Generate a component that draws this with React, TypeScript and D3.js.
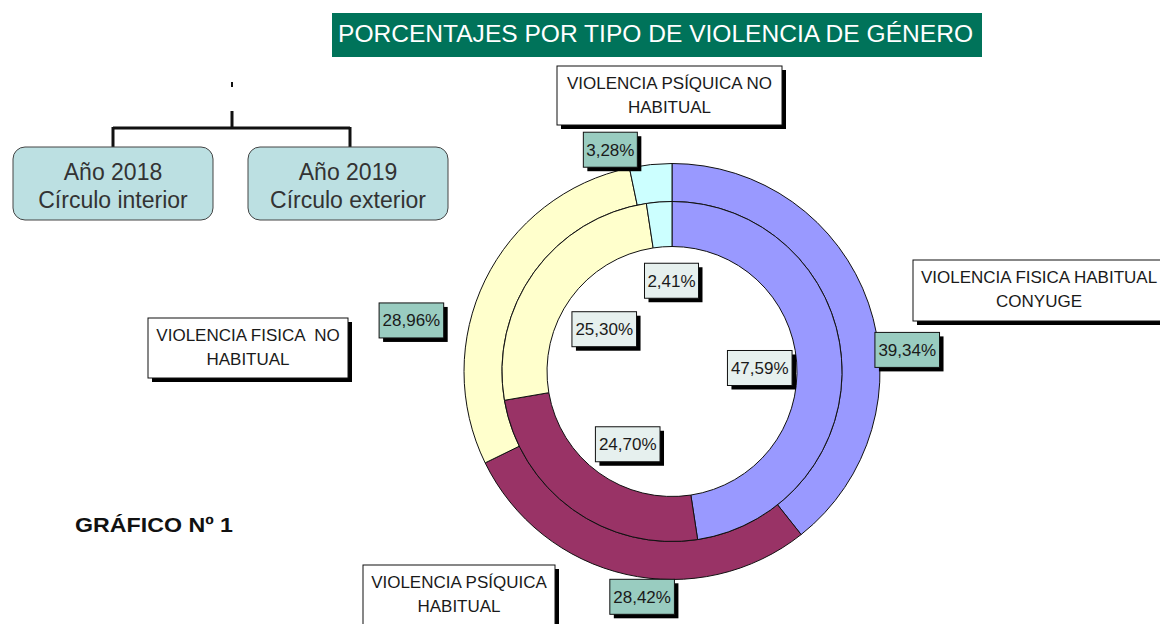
import React from "react";
import * as d3 from "d3";

// ---------- data ----------
const categories = [
  "VIOLENCIA FISICA HABITUAL CONYUGE",
  "VIOLENCIA PSÍQUICA HABITUAL",
  "VIOLENCIA FISICA NO HABITUAL",
  "VIOLENCIA PSÍQUICA NO HABITUAL",
];
const categoryLines = [
  ["VIOLENCIA FISICA HABITUAL", "CONYUGE"],
  ["VIOLENCIA PSÍQUICA", "HABITUAL"],
  ["VIOLENCIA FISICA  NO", "HABITUAL"],
  ["VIOLENCIA PSÍQUICA NO", "HABITUAL"],
];
const values2018 = [47.59, 24.7, 25.3, 2.41]; // inner ring
const values2019 = [39.34, 28.42, 28.96, 3.28]; // outer ring
const sliceColors = ["#9999FF", "#993366", "#FFFFCC", "#CCFFFF"];

const titleText = "PORCENTAJES POR TIPO DE VIOLENCIA DE GÉNERO";
const yearLabels = [
  ["Año 2018", "Círculo interior"],
  ["Año 2019", "Círculo exterior"],
];
const footText = "GRÁFICO Nº 1";

// ---------- layout ----------
const W = 1160;
const H = 624;
const cx = 672;
const cy = 371.5;
const rHole = 125;
const rMid = 170;
const rOuter = 208;
const innerLabelR = 86;
const outerLabelR = 230;
// manual nudges of outer data labels (like moved Excel labels)
const outerLabelNudge: [number, number][] = [
  [18, 54],
  [21, 1],
  [-54, 50],
  [-38, 7],
];
const innerLabelNudge: [number, number][] = [
  [2, 3],
  [6, 3],
  [2, 8],
  [6, -5],
];
// category label boxes: x, y, w, h
const catBoxes: [number, number, number, number][] = [
  [913, 260, 252, 61],
  [363, 565, 192, 72],
  [148, 318, 200, 60],
  [557, 66, 225, 59],
];

const fmt = (v: number) => v.toFixed(2).replace(".", ",") + "%";

const FONT = "'Liberation Sans', Arial, sans-serif";

function PctLabel({ x, y, text, fill }: { x: number; y: number; text: string; fill: string }) {
  const w = text.length * 10.6 + 1;
  const h = 35;
  return (
    <g>
      <rect x={x - w / 2 + 4} y={y - h / 2 + 4} width={w} height={h} fill="#000" />
      <rect x={x - w / 2} y={y - h / 2} width={w} height={h} fill={fill} stroke="#111" strokeWidth={1} />
      <text x={x} y={y + 6} textAnchor="middle" fontFamily={FONT} fontSize={17} fill="#1a1a1a">
        {text}
      </text>
    </g>
  );
}

export default function App() {
  const pie = d3
    .pie<number>()
    .sort(null)
    .value((d) => d)
    .startAngle(0)
    .endAngle(2 * Math.PI);

  const innerArcs = pie(values2018);
  const outerArcs = pie(values2019);

  const innerArc = d3.arc<d3.PieArcDatum<number>>().innerRadius(rHole).outerRadius(rMid);
  const outerArc = d3.arc<d3.PieArcDatum<number>>().innerRadius(rMid).outerRadius(rOuter);
  const innerLabelArc = d3.arc<d3.PieArcDatum<number>>().innerRadius(innerLabelR).outerRadius(innerLabelR);
  const outerLabelArc = d3.arc<d3.PieArcDatum<number>>().innerRadius(outerLabelR).outerRadius(outerLabelR);

  const yearBoxes = [
    { x: 13, y: 147, w: 200, h: 73 },
    { x: 248, y: 147, w: 200, h: 73 },
  ];

  return (
    <svg
      width={W}
      height={H}
      viewBox={`0 0 ${W} ${H}`}
      style={{ position: "absolute", left: 0, top: 0, background: "#fff" }}
    >
      <rect x={0} y={0} width={W} height={H} fill="#fff" />

      {/* title */}
      <rect x={332} y={13} width={650} height={44} fill="#00735A" />
      <text
        x={338}
        y={42}
        fontFamily={FONT}
        fontSize={23}
        fill="#fff"
        textLength={635}
        lengthAdjust="spacingAndGlyphs"
      >
        {titleText}
      </text>

      {/* tree connector */}
      <g stroke="#111" strokeWidth={3} fill="none">
        <line x1={232} y1={82} x2={232} y2={87} strokeWidth={2} />
        <line x1={232} y1={111} x2={232} y2={129} />
        <line x1={113} y1={128} x2={350} y2={128} />
        <line x1={113} y1={127} x2={113} y2={148} />
        <line x1={350} y1={127} x2={350} y2={148} />
      </g>
      {yearBoxes.map((b, i) => (
        <g key={i}>
          <rect x={b.x} y={b.y} width={b.w} height={b.h} rx={12} fill="#BCE0E2" stroke="#444" strokeWidth={1} />
          <text x={b.x + b.w / 2} y={b.y + 33} textAnchor="middle" fontFamily={FONT} fontSize={23} fill="#333">
            {yearLabels[i][0]}
          </text>
          <text x={b.x + b.w / 2} y={b.y + 61} textAnchor="middle" fontFamily={FONT} fontSize={23} fill="#333">
            {yearLabels[i][1]}
          </text>
        </g>
      ))}

      {/* rings */}
      <g transform={`translate(${cx},${cy})`}>
        {outerArcs.map((a, i) => (
          <path key={"o" + i} d={outerArc(a) || ""} fill={sliceColors[i]} stroke="#111" strokeWidth={1} />
        ))}
        {innerArcs.map((a, i) => (
          <path key={"i" + i} d={innerArc(a) || ""} fill={sliceColors[i]} stroke="#111" strokeWidth={1} />
        ))}
      </g>

      {/* inner labels */}
      {innerArcs.map((a, i) => {
        const [px, py] = innerLabelArc.centroid(a);
        return (
          <PctLabel
            key={"il" + i}
            x={cx + px + innerLabelNudge[i][0]}
            y={cy + py + innerLabelNudge[i][1]}
            text={fmt(values2018[i])}
            fill="#E6F0EE"
          />
        );
      })}

      {/* outer labels */}
      {outerArcs.map((a, i) => {
        const [px, py] = outerLabelArc.centroid(a);
        return (
          <PctLabel
            key={"ol" + i}
            x={cx + px + outerLabelNudge[i][0]}
            y={cy + py + outerLabelNudge[i][1]}
            text={fmt(values2019[i])}
            fill="#99CCC0"
          />
        );
      })}

      {/* category labels */}
      {categories.map((c, i) => {
        const [x, y, w, h] = catBoxes[i];
        const lines = categoryLines[i];
        return (
          <g key={"c" + i}>
            <rect x={x + 4} y={y + 4} width={w} height={h} fill="#000" />
            <rect x={x} y={y} width={w} height={h} fill="#fff" stroke="#111" strokeWidth={1} />
            <text textAnchor="middle" fontFamily={FONT} fontSize={17} fill="#1a1a1a" style={{ whiteSpace: "pre" }}>
              <tspan x={x + w / 2} y={y + 23}>
                {lines[0]}
              </tspan>
              <tspan x={x + w / 2} y={y + 47}>
                {lines[1]}
              </tspan>
            </text>
          </g>
        );
      })}

      {/* footer */}
      <text
        x={75}
        y={532}
        fontFamily="'Liberation Sans', Arial, sans-serif"
        fontWeight="bold"
        fontSize={21}
        fill="#111"
        textLength={158}
        lengthAdjust="spacingAndGlyphs"
      >
        {footText}
      </text>
    </svg>
  );
}
